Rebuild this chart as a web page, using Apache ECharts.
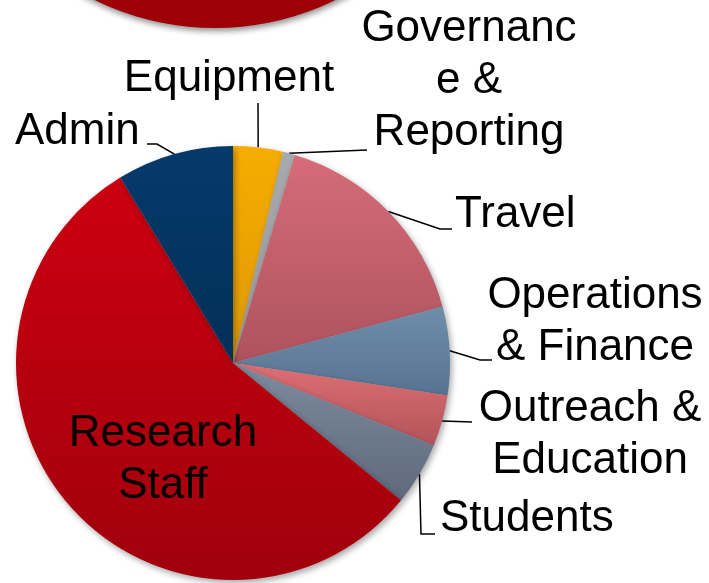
<!DOCTYPE html>
<html>
<head>
<meta charset="utf-8">
<script src="https://cdn.jsdelivr.net/npm/echarts@6/dist/echarts.min.js"></script>
<style>
  html, body { margin: 0; padding: 0; background: #fff; }
  #budgetPie { width: 709px; height: 583px; }
</style>
</head>
<body>
<div id="budgetPie"></div>
<script>
// slices, clockwise from 12 o'clock
const categories = ['Equipment', 'Governance & Reporting', 'Travel', 'Operations & Finance',
    'Outreach & Education', 'Students', 'Research Staff', 'Admin'];
const shares = [3.7, 0.9, 16.2, 6.6, 3.8, 4.7, 55.4, 8.7];
const labelTexts = ['Equipment', 'Governanc\ne &\nReporting', 'Travel', 'Operations\n& Finance',
    'Outreach &\nEducation', 'Students', 'Research\nStaff', 'Admin'];
// the neighbouring chart peeking in at the top
const topPieValues = [1];

// top / bottom of each slice gradient
const colors = [
    ['#F7AC00', '#DE9A05'],
    ['#A8AAAD', '#95979A'],
    ['#D66C78', '#AD535E'],
    ['#6E8EA9', '#587390'],
    ['#DD6F74', '#B3545A'],
    ['#7E8A9D', '#5E6A7C'],
    ['#CC0010', '#A0000C'],
    ['#053A6B', '#032F58']
];

// label anchor + leader bends (layout only)
const labelPos = [
    { x: 229, y: 79, align: 'center', bends: [[258, 103]] },
    { x: 469, y: 81, align: 'center', bends: [[367, 150]] },
    { x: 455, y: 215, align: 'left', bends: [[440, 229], [452, 229]] },
    { x: 595, y: 322, align: 'center', bends: [[480, 360], [492, 360]] },
    { x: 590, y: 435, align: 'center', bends: [[472, 422]] },
    { x: 440, y: 519, align: 'left', bends: [[421, 534], [435, 534]] },
    { x: 163, y: 460, align: 'center', bends: null },
    { x: 15, y: 132, align: 'left', bends: [[157, 144], [147, 144]] }
];

const chart = echarts.init(document.getElementById('budgetPie'));

let pieData = categories.map((name, i) => ({
    name: name,
    value: shares[i],
    label: { formatter: labelTexts[i], align: labelPos[i].align },
    labelLine: { show: labelPos[i].bends !== null },
    itemStyle: {
        color: new echarts.graphic.LinearGradient(0, 0, 0, 1, [
            { offset: 0, color: colors[i][0] },
            { offset: 1, color: colors[i][1] }
        ])
    }
}));

let options = {
    animation: false,
    series: [
        {
            name: 'top',
            type: 'pie',
            silent: true,
            center: [215, -245],
            radius: 273,
            label: { show: false },
            labelLine: { show: false },
            itemStyle: {
                color: '#9E0008',
                shadowBlur: 6,
                shadowColor: 'rgba(0,0,0,0.45)',
                shadowOffsetX: 1,
                shadowOffsetY: 3
            },
            data: topPieValues.map(v => ({ value: v, name: '' }))
        },
        {
            name: 'Budget',
            type: 'pie',
            center: [233, 363],
            radius: 217,
            startAngle: 90,
            clockwise: true,
            avoidLabelOverlap: false,
            itemStyle: {
                shadowBlur: 6,
                shadowColor: 'rgba(0,0,0,0.35)',
                shadowOffsetX: 2,
                shadowOffsetY: 3
            },
            label: {
                show: true,
                position: 'outside',
                color: '#000',
                fontFamily: 'Liberation Sans, Arial, sans-serif',
                fontSize: 44,
                lineHeight: 52
            },
            labelLine: {
                show: true,
                lineStyle: { color: '#000', width: 1.5 }
            },
            labelLayout: function (params) {
                let p = labelPos[params.dataIndex];
                let out = {
                    x: p.x,
                    y: p.y,
                    align: p.align,
                    verticalAlign: 'middle'
                };
                if (p.bends && params.labelLinePoints) {
                    out.labelLinePoints = [params.labelLinePoints[0]].concat(p.bends);
                }
                return out;
            },
            data: pieData
        }
    ]
};
chart.setOption(options);
</script>
</body>
</html>
